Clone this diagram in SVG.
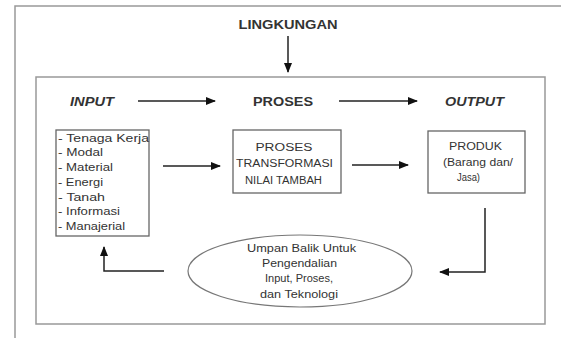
<svg xmlns="http://www.w3.org/2000/svg" width="561" height="338" viewBox="0 0 561 338">
<defs>
<marker id="ah" markerWidth="10" markerHeight="8" refX="9" refY="4" orient="auto" markerUnits="userSpaceOnUse">
<path d="M0,0 L10,4 L0,8 Z" fill="#111"/>
</marker>
<style>
text{font-family:"Liberation Sans",Arial,sans-serif;fill:#333}
.h{font-size:12px;font-weight:bold}
.i{font-style:italic}
.b{font-size:10px}
.box{fill:#fff;stroke:#666;stroke-width:1.3}
.con{fill:none;stroke:#222;stroke-width:1.5}
.frame{fill:none;stroke:#999;stroke-width:1.5}
</style>
</defs>
<rect width="561" height="338" fill="#fff"/>
<path class="frame" d="M15,340 V6 H563"/>
<rect class="frame" x="36" y="77" width="509" height="247"/>
<g id="lingkungan"><text class="h" x="288" y="29" text-anchor="middle" textLength="99" lengthAdjust="spacingAndGlyphs">LINGKUNGAN</text></g>
<g id="h-input"><text class="h i" x="70" y="106" textLength="44" lengthAdjust="spacingAndGlyphs">INPUT</text></g>
<g id="h-proses"><text class="h" x="253" y="106" textLength="60" lengthAdjust="spacingAndGlyphs">PROSES</text></g>
<g id="h-output"><text class="h i" x="445" y="106" textLength="59" lengthAdjust="spacingAndGlyphs">OUTPUT</text></g>
<g id="inputs">
<rect class="box" x="56" y="130" width="93" height="106"/>
<text class="b" x="58" y="141.5" textLength="91" lengthAdjust="spacingAndGlyphs">- Tenaga Kerja</text>
<text class="b" x="58" y="156" textLength="45" lengthAdjust="spacingAndGlyphs">- Modal</text>
<text class="b" x="58" y="171" textLength="55" lengthAdjust="spacingAndGlyphs">- Material</text>
<text class="b" x="58" y="185.5" textLength="45" lengthAdjust="spacingAndGlyphs">- Energi</text>
<text class="b" x="58" y="200.5" textLength="47" lengthAdjust="spacingAndGlyphs">- Tanah</text>
<text class="b" x="58" y="215" textLength="62" lengthAdjust="spacingAndGlyphs">- Informasi</text>
<text class="b" x="58" y="229.5" textLength="67" lengthAdjust="spacingAndGlyphs">- Manajerial</text>
</g>
<g id="proses">
<rect class="box" x="233" y="130" width="108" height="63"/>
<text class="b" x="284" y="150.5" text-anchor="middle" textLength="57" lengthAdjust="spacingAndGlyphs">PROSES</text>
<text class="b" x="284.5" y="166.5" text-anchor="middle" textLength="97" lengthAdjust="spacingAndGlyphs">TRANSFORMASI</text>
<text class="b" x="283.5" y="183.5" text-anchor="middle" textLength="77" lengthAdjust="spacingAndGlyphs">NILAI TAMBAH</text>
</g>
<g id="produk">
<rect class="box" x="428" y="131" width="97" height="62"/>
<text class="b" x="475.5" y="149.5" text-anchor="middle" textLength="53" lengthAdjust="spacingAndGlyphs">PRODUK</text>
<text class="b" x="478" y="165.5" text-anchor="middle" textLength="70" lengthAdjust="spacingAndGlyphs">(Barang dan/</text>
<text class="b" x="468.5" y="180.5" text-anchor="middle" textLength="23" lengthAdjust="spacingAndGlyphs">Jasa)</text>
</g>
<g id="umpan-balik">
<ellipse cx="300" cy="271" rx="112" ry="36" fill="#fff" stroke="#777" stroke-width="1.2"/>
<text class="b" x="301.5" y="251.5" text-anchor="middle" textLength="109" lengthAdjust="spacingAndGlyphs">Umpan Balik Untuk</text>
<text class="b" x="299.5" y="266.5" text-anchor="middle" textLength="75" lengthAdjust="spacingAndGlyphs">Pengendalian</text>
<text class="b" x="299" y="281.5" text-anchor="middle" textLength="68" lengthAdjust="spacingAndGlyphs">Input, Proses,</text>
<text class="b" x="299" y="297.5" text-anchor="middle" textLength="78" lengthAdjust="spacingAndGlyphs">dan Teknologi</text>
</g>
<g id="connectors">
<path class="con" d="M288,36 V72" marker-end="url(#ah)"/>
<path class="con" d="M138,101 H215" marker-end="url(#ah)"/>
<path class="con" d="M339,101 H417" marker-end="url(#ah)"/>
<path class="con" d="M163,166 H220" marker-end="url(#ah)"/>
<path class="con" d="M352,165 H408" marker-end="url(#ah)"/>
<path class="con" d="M485,208 V272 H440" marker-end="url(#ah)"/>
<path class="con" d="M164,271 H104 V247" marker-end="url(#ah)"/>
</g>
</svg>
